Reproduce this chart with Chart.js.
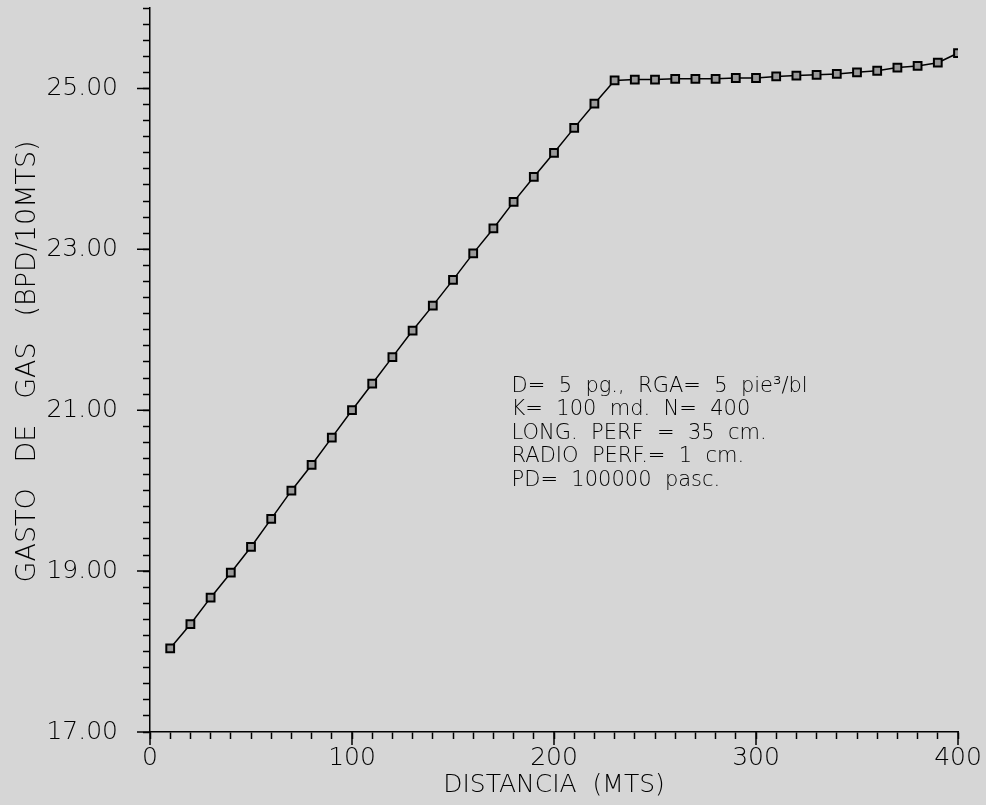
<!DOCTYPE html>
<html>
<head>
<meta charset="utf-8">
<script src="https://cdn.jsdelivr.net/npm/chart.js@4.4.1/dist/chart.umd.min.js"></script>
<style>
  html, body { margin: 0; padding: 0; background: #d6d6d6; }
</style>
</head>
<body>
<canvas id="gasChart" width="986" height="805"></canvas>
<script>
// distancia (MTS) vs gasto de gas (BPD/10MTS)
const distancia = [10, 20, 30, 40, 50, 60, 70, 80, 90, 100,
    110, 120, 130, 140, 150, 160, 170, 180, 190, 200,
    210, 220, 230, 240, 250, 260, 270, 280, 290, 300,
    310, 320, 330, 340, 350, 360, 370, 380, 390, 400];
const gasto = [18.04, 18.34, 18.67, 18.98, 19.30, 19.65, 20.00, 20.32, 20.66, 21.00,
    21.33, 21.66, 21.99, 22.30, 22.62, 22.95, 23.26, 23.59, 23.90, 24.20,
    24.51, 24.81, 25.10, 25.11, 25.11, 25.12, 25.12, 25.12, 25.13, 25.13,
    25.15, 25.16, 25.17, 25.18, 25.20, 25.22, 25.26, 25.28, 25.32, 25.44];
const yLabels = [17, 19, 21, 23, 25];
const xLabels = [0, 100, 200, 300, 400];
const notas = [
    'D=  5  pg.,  RGA=  5  pie³/bl',
    'K=  100  md.  N=  400',
    'LONG.  PERF  =  35  cm.',
    'RADIO  PERF.=  1  cm.',
    'PD=  100000  pasc.'
];

const fuente = 'DejaVu Sans';

const esEntero = (v, lista) => lista.some(l => Math.abs(v - l) < 1e-6);

// ticks largos + cuadro de texto
const extras = {
    id: 'extras',
    beforeDraw(chart) {
        const ctx = chart.ctx;
        ctx.save();
        ctx.fillStyle = '#d6d6d6';
        ctx.fillRect(0, 0, chart.width, chart.height);
        ctx.restore();
    },
    afterDraw(chart) {
        const {ctx, scales: {x, y}} = chart;
        ctx.save();
        ctx.strokeStyle = '#000';
        ctx.lineWidth = 1.5;
        ctx.beginPath();
        yLabels.forEach(v => {
            const py = y.getPixelForValue(v);
            ctx.moveTo(x.left - 13, py);
            ctx.lineTo(x.left, py);
        });
        xLabels.forEach(v => {
            const px = x.getPixelForValue(v);
            ctx.moveTo(px, y.bottom);
            ctx.lineTo(px, y.bottom + 13);
        });
        ctx.stroke();

        ctx.fillStyle = '#000';
        ctx.font = '200 21px "' + fuente + '"';
        ctx.textBaseline = 'middle';
        const x0 = x.getPixelForValue(179);
        const y0 = y.getPixelForValue(21.3);
        notas.forEach((t, i) => ctx.fillText(t, x0, y0 + i * 23.5));
        ctx.restore();
    }
};

new Chart(document.getElementById('gasChart'), {
    type: 'line',
    data: {
        datasets: [{
            data: distancia.map((d, i) => ({x: d, y: gasto[i]})),
            borderColor: '#000',
            borderWidth: 1.5,
            pointStyle: 'rect',
            pointRadius: 5.5,
            pointBorderWidth: 2,
            pointBorderColor: '#000',
            pointBackgroundColor: '#9a9a9a',
            tension: 0
        }]
    },
    options: {
        responsive: false,
        animation: false,
        layout: {padding: {top: 8, right: 28, left: 0, bottom: 0}},
        plugins: {
            legend: {display: false},
            tooltip: {enabled: false}
        },
        scales: {
            x: {
                type: 'linear',
                min: 0,
                max: 400,
                afterFit: s => { s.height = 73; s.paddingLeft = 0; s.paddingRight = 0; },
                border: {color: '#000', width: 1.5},
                grid: {drawOnChartArea: false, tickLength: 7, tickColor: '#000', tickWidth: 1.5},
                ticks: {
                    stepSize: 10,
                    maxTicksLimit: 100,
                    autoSkip: false,
                    maxRotation: 0,
                    minRotation: 0,
                    padding: 4,
                    color: '#000',
                    font: {family: fuente, size: 25, weight: 200},
                    callback: v => esEntero(v, xLabels) ? String(v) : ''
                },
                title: {
                    display: true,
                    text: 'DISTANCIA  (MTS)',
                    color: '#000',
                    font: {family: fuente, size: 25, weight: 200},
                    padding: {top: 0, bottom: 5}
                }
            },
            y: {
                min: 17,
                max: 26,
                afterFit: s => { s.width = 150; s.paddingTop = 0; s.paddingBottom = 0; },
                border: {color: '#000', width: 1.5},
                grid: {drawOnChartArea: false, tickLength: 7, tickColor: '#000', tickWidth: 1.5},
                ticks: {
                    stepSize: 0.2,
                    maxTicksLimit: 100,
                    autoSkip: false,
                    padding: 25,
                    color: '#000',
                    font: {family: fuente, size: 25, weight: 200},
                    callback: v => esEntero(v, yLabels) ? v.toFixed(2) : ''
                },
                title: {
                    display: true,
                    text: '  GASTO   DE   GAS   (BPD/10MTS)',
                    color: '#000',
                    font: {family: fuente, size: 27, weight: 200},
                    padding: {top: 12, bottom: 0}
                }
            }
        }
    },
    plugins: [extras]
});
</script>
</body>
</html>
